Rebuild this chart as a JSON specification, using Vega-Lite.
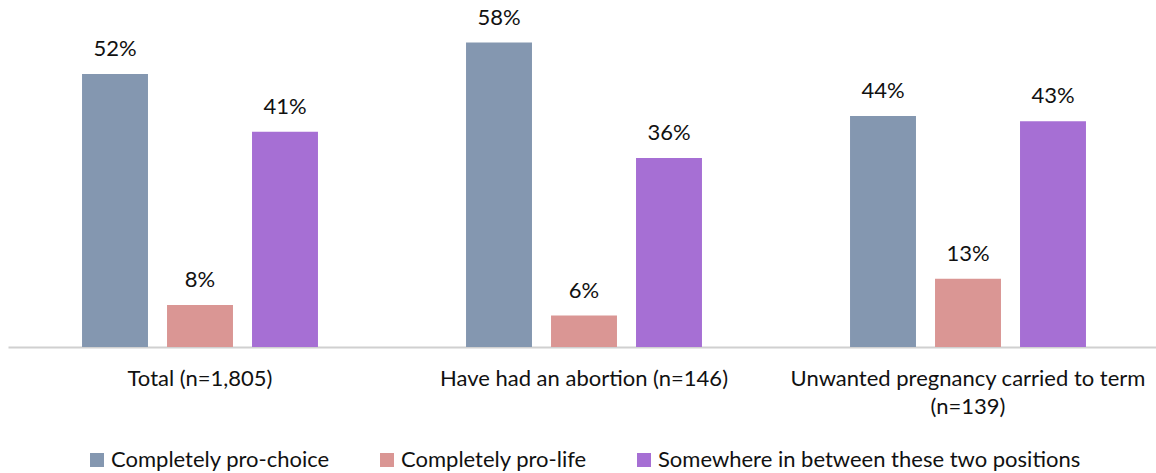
{
  "$schema": "https://vega.github.io/schema/vega-lite/v6.json",
  "autosize": {"type": "none"},
  "width": 1152,
  "height": 336,
  "padding": {"left": 8, "top": 11, "right": 0, "bottom": 126},
  "background": "#ffffff",
  "config": {
    "view": {"stroke": null},
    "font": "Lato",
    "text": {"font": "Lato"}
  },
  "data": {
    "values": [
      {"group": "Total (n=1,805)", "position": "Completely pro-choice", "share": 0.52},
      {"group": "Total (n=1,805)", "position": "Completely pro-life", "share": 0.08},
      {"group": "Total (n=1,805)", "position": "Somewhere in between these two positions", "share": 0.41},
      {"group": "Have had an abortion (n=146)", "position": "Completely pro-choice", "share": 0.58},
      {"group": "Have had an abortion (n=146)", "position": "Completely pro-life", "share": 0.06},
      {"group": "Have had an abortion (n=146)", "position": "Somewhere in between these two positions", "share": 0.36},
      {"group": "Unwanted pregnancy carried to term (n=139)", "position": "Completely pro-choice", "share": 0.44},
      {"group": "Unwanted pregnancy carried to term (n=139)", "position": "Completely pro-life", "share": 0.13},
      {"group": "Unwanted pregnancy carried to term (n=139)", "position": "Somewhere in between these two positions", "share": 0.43}
    ]
  },
  "encoding": {
    "x": {
      "field": "group",
      "type": "nominal",
      "sort": null,
      "scale": {"paddingInner": 0, "paddingOuter": 0},
      "axis": {
        "title": null,
        "labelAngle": 0,
        "ticks": false,
        "tickSize": 0,
        "domainColor": "#D0D0D0",
        "domainWidth": 2,
        "labelFont": "Lato",
        "labelFontSize": 22,
        "labelColor": "#111111",
        "labelBaseline": "alphabetic",
        "labelPadding": 38,
        "labelLineHeight": 28,
        "labelLimit": 0,
        "labelExpr": "datum.value == 'Unwanted pregnancy carried to term (n=139)' ? ['Unwanted pregnancy carried to term', '(n=139)'] : datum.value"
      }
    },
    "xOffset": {
      "field": "position",
      "type": "nominal",
      "sort": null,
      "scale": {"paddingInner": 0.224, "paddingOuter": 0.871}
    },
    "y": {
      "field": "share",
      "type": "quantitative",
      "scale": {"domain": [0, 0.64], "nice": false, "zero": true},
      "axis": null
    }
  },
  "layer": [
    {
      "mark": {"type": "bar"},
      "encoding": {
        "color": {
          "field": "position",
          "type": "nominal",
          "sort": null,
          "scale": {
            "domain": ["Completely pro-choice", "Completely pro-life", "Somewhere in between these two positions"],
            "range": ["#8497B0", "#DA9694", "#A66FD4"]
          },
          "legend": {
            "title": null,
            "orient": "none",
            "direction": "horizontal",
            "legendX": 78,
            "legendY": 438,
            "symbolType": "square",
            "symbolSize": 196,
            "symbolStrokeWidth": 0,
            "labelFont": "Lato",
            "labelFontSize": 22,
            "labelColor": "#111111",
            "labelOffset": 3,
            "columnPadding": 46,
            "labelLimit": 0
          }
        }
      }
    },
    {
      "mark": {"type": "text", "baseline": "alphabetic", "dy": -18, "fontSize": 22, "font": "Lato", "color": "#111111"},
      "encoding": {
        "text": {"field": "share", "type": "quantitative", "format": ".0%"},
        "detail": {"field": "position"}
      }
    }
  ]
}
